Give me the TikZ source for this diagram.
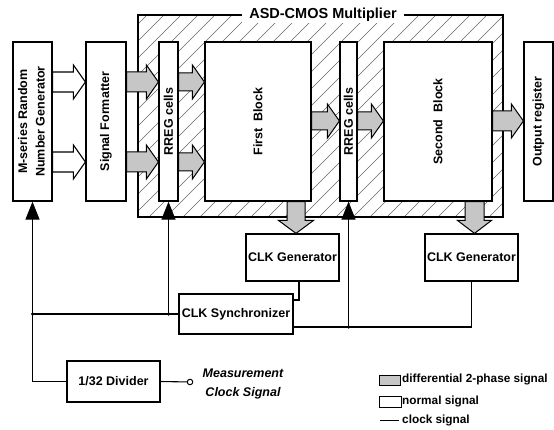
\documentclass[tikz,border=0pt]{standalone}
\usepackage{fontspec}
\setmainfont{Liberation Sans}
\usepackage{graphicx}
\usetikzlibrary{arrows.meta,calc}
\newcommand\BArR[6]{%
  \pgfmathsetmacro\ba{#4-#5}\pgfmathsetmacro\bb{#4+#5}\pgfmathsetmacro\bh{#6-#5}%
  \draw[#1] (#3.west |- 0,#4) -- ++(-12,-#6) -- ++(0,\bh) -- (#2.east |- 0,\ba) -- (#2.east |- 0,\bb) -- ($(#3.west |- 0,\bb)+(-12,0)$) -- ++(0,\bh) -- cycle;}
\newcommand\BArD[6]{%
  \pgfmathsetmacro\ba{#4-#5}\pgfmathsetmacro\bb{#4+#5}\pgfmathsetmacro\bh{#6-#5}%
  \draw[#1] (#3.north -| #4,0) -- ++(#6,-13) -- ++(-\bh,0) -- (#2.south -| \bb,0) -- (#2.south -| \ba,0) -- ($(#3.north -| \ba,0)+(0,-13)$) -- ++(-\bh,0) -- cycle;}
\tikzset{
  lbl/.style={font=\fontsize{12.5}{14}\selectfont\bfseries},
  leg/.style={font=\fontsize{11.8}{14}\selectfont\bfseries,anchor=west,inner sep=0pt},
  blk/.style={draw,line width=1.2pt,fill=white,inner sep=0pt,lbl},
  hatch/.style={line width=0.55pt,black!60},
  diffar/.style={draw,line width=1pt,fill=gray!45,line join=miter},
  normar/.style={draw,line width=1.1pt,fill=white,line join=miter},
  clk/.style={line width=1.1pt},
  clkar/.style={clk,-{Triangle[length=18pt,width=14pt]}},
  jdot/.style={circle,fill=black,inner sep=0pt,minimum size=3.5pt},
}
\begin{document}
\begin{tikzpicture}[x=1pt,y=-1pt]
\useasboundingbox (0,0) rectangle (554,430);
% hatched multiplier region
\begin{scope}
  \clip (138,15) rectangle (503,217);
  \foreach \i in {0,...,36} \draw[hatch] ({138+\i*17-210},217) -- ++(210,-210);
\end{scope}
\node[draw,line width=1.2pt,inner sep=0pt,minimum width=365,minimum height=202] (asd) at (320.5,116) {};
\node[fill=white,inner xsep=7pt,inner ysep=1pt,font=\fontsize{14.5}{16}\selectfont\bfseries] (title) at (323,15) {ASD-CMOS Multiplier};
% blocks
\node[blk,minimum width=39,minimum height=159] (ms) at (32.5,121.5)
  {\rotatebox{90}{\def\arraystretch{1.25}\begin{tabular}{@{}c@{}}M-series Random\\Number Generator\end{tabular}}};
\node[blk,minimum width=40,minimum height=159] (sf) at (106,121.5) {\rotatebox{90}{Signal Formatter}};
\node[blk,minimum width=19,minimum height=159] (r1) at (168.5,121.5) {\rotatebox{90}{RREG cells}};
\node[blk,minimum width=106,minimum height=159] (fb) at (258,121.5) {\rotatebox{90}{First\ \ Block}};
\node[blk,minimum width=17,minimum height=159] (r2) at (348.5,121.5) {\rotatebox{90}{RREG cells}};
\node[blk,minimum width=108,minimum height=159] (sb) at (438,121.5) {\rotatebox{90}{Second\ \ Block}};
\node[blk,minimum width=29,minimum height=159] (or) at (538.5,121.5) {\rotatebox{90}{Output register}};
\node[blk,minimum width=93,minimum height=47] (cg1) at (292.5,257.5) {CLK Generator};
\node[blk,minimum width=93,minimum height=47] (cg2) at (471.5,257.5) {CLK Generator};
\node[blk,minimum width=114,minimum height=40] (sync) at (236,314) {CLK Synchronizer};
\node[blk,minimum width=93,minimum height=41] (div) at (113.5,381.5) {1/32 Divider};
\node[circle,draw,line width=1pt,fill=white,inner sep=0pt,minimum size=5.5pt] (mc) at (190,382) {};
\node[lbl,font=\fontsize{12.5}{19}\selectfont\bfseries\itshape,align=center,inner sep=0pt] (mtxt) at (243,383.5) {Measurement\\Clock Signal};
% block arrows
\BArR{normar}{ms}{sf}{82}{10}{17}
\BArR{normar}{ms}{sf}{162}{10}{17}
\BArR{diffar}{sf}{r1}{82}{10}{17}
\BArR{diffar}{sf}{r1}{162}{10}{17}
\BArR{diffar}{r1}{fb}{82}{9}{17}
\BArR{diffar}{r1}{fb}{162}{9}{17}
\BArR{diffar}{fb}{r2}{121}{9}{17}
\BArR{diffar}{r2}{sb}{121}{9}{17}
\BArR{diffar}{sb}{or}{121}{10}{17}
\BArD{diffar}{fb}{cg1}{296}{9}{17.5}
\BArD{diffar}{sb}{cg2}{474.5}{9.5}{17}
% clock lines
\draw[clkar] (div.west) -| (ms.south);
\draw[clk] (sync.west) -- (sync.west -| ms.south);
\draw[clkar] (sync.west -| r1.south) -- (r1.south);
\node[jdot] (j1) at (sync.west -| ms.south) {};
\node[jdot] (j2) at (sync.west -| r1.south) {};
\draw[clk] (cg1.south -| 299,0) |- (sync.east |- 0,300);
\draw[clk] (sync.east |- 0,327) -| (cg2.south);
\draw[clkar] (r2.south |- 0,327) -- (r2.south);
\node[jdot] (j3) at (r2.south |- 0,327) {};
\draw[clk] (div.east) -- (mc);
% legend
\node[draw,line width=0.9pt,fill=gray!45,inner sep=0pt,minimum width=21,minimum height=10] (lg1) at (389.5,380) {};
\node[leg] (lt1) at (402,379.5) {differential 2-phase signal};
\node[draw,line width=0.9pt,fill=white,inner sep=0pt,minimum width=22,minimum height=11] (lg2) at (390,401.5) {};
\node[leg] (lt2) at (402,401) {normal signal};
\coordinate (lc1) at (380,420);
\coordinate (lc2) at (399,420);
\draw[line width=0.8pt] (lc1) -- (lc2);
\node[leg] (lt3) at (402,420) {clock signal};
\end{tikzpicture}
\end{document}
